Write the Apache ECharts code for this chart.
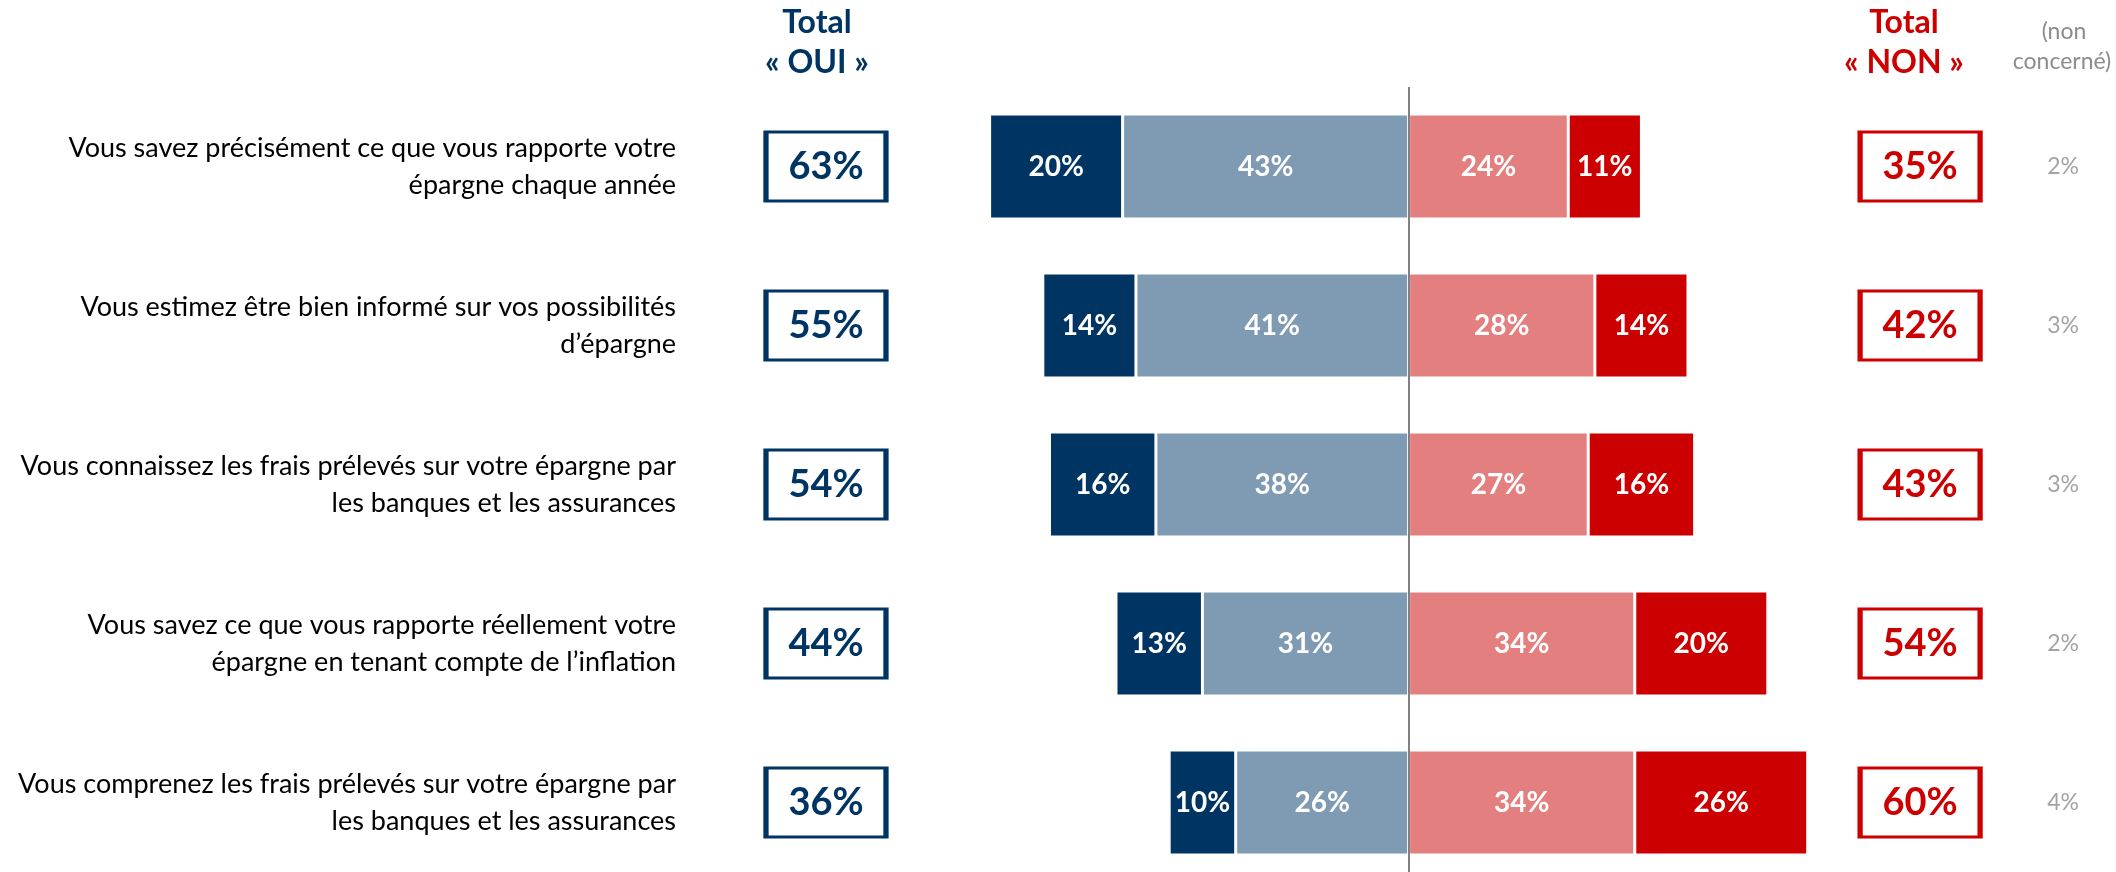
<!DOCTYPE html>
<html>
<head>
<meta charset="utf-8">
<script src="https://cdn.jsdelivr.net/npm/echarts@6/dist/echarts.min.js"></script>
<style>html,body{margin:0;padding:0;background:#fff;overflow:hidden}#c{width:2116px;height:882px}</style>
</head>
<body>
<div id="c"></div>
<script>
const categories = [
  "Vous savez précisément ce que vous rapporte votre\népargne chaque année",
  "Vous estimez être bien informé sur vos possibilités\nd’épargne",
  "Vous connaissez les frais prélevés sur votre épargne par\nles banques et les assurances",
  "Vous savez ce que vous rapporte réellement votre\népargne en tenant compte de l’inflation",
  "Vous comprenez les frais prélevés sur votre épargne par\nles banques et les assurances"
];
const toutAFaitOui = [20, 14, 16, 13, 10];
const plutotOui = [43, 41, 38, 31, 26];
const plutotNon = [24, 28, 27, 34, 34];
const pasDuToutNon = [11, 14, 16, 20, 26];
const totalOui = [63, 55, 54, 44, 36];
const totalNon = [35, 42, 43, 54, 60];
const nonConcerne = [2, 3, 3, 2, 4];

const FONT = 'Lato';
const NAVY = '#003463', LIGHTBLUE = '#7F9AB3', PINK = '#E3807F', RED = '#CC0000', GREY = '#8C8C8C';
const X_OUI = -87.6, X_NON = 76.9, X_NC = 98.4;

const chart = echarts.init(document.getElementById('c'), null, {renderer: 'canvas'});
const barLabel = {
  show: true, position: 'inside', color: '#fff', fontWeight: 'bold', fontSize: 28, fontFamily: FONT,
  formatter: p => Math.abs(p.value) + '%'
};
const barStyle = c => ({color: c, borderColor: '#fff', borderWidth: 1.5});
function boxSeries(vals, x, color) {
  return {
    type: 'scatter', z: 3, silent: true,
    symbol: 'rect', symbolSize: [120, 69],
    itemStyle: {color: '#fff', borderColor: color, borderWidth: 4, opacity: 1},
    label: {show: true, position: 'inside', color: color, fontWeight: 'bold', fontSize: 38, fontFamily: FONT,
      formatter: p => p.value[2] + '%'},
    data: vals.map((v, i) => [x, i, v])
  };
}
function hdr(text, x, y, color, font) {
  return {type: 'text', x: x, y: y, silent: true,
    style: {text: text, fill: color, font: font, align: 'center', verticalAlign: 'middle'}};
}
chart.setOption({
  animation: false,
  textStyle: {fontFamily: FONT},
  grid: {left: 677, right: 9, top: 87, bottom: 0, containLabel: false},
  xAxis: {type: 'value', min: -110, max: 105, show: false},
  yAxis: {
    type: 'category', inverse: true, data: categories,
    axisLine: {show: false}, axisTick: {show: false},
    axisLabel: {fontSize: 27, color: '#000', fontFamily: FONT, align: 'right', lineHeight: 37, margin: 1}
  },
  graphic: [
    hdr('Total', 817, 23, NAVY, 'bold 32px Lato'),
    hdr('« OUI »', 817, 63, NAVY, 'bold 32px Lato'),
    hdr('Total', 1904, 23, RED, 'bold 32px Lato'),
    hdr('« NON »', 1904, 63, RED, 'bold 32px Lato'),
    hdr('(non', 2064, 32, GREY, '23px Lato'),
    hdr('concerné)', 2062, 62, GREY, '23px Lato')
  ],
  series: [
    {name: 'Plutôt oui', type: 'bar', stack: 's', barWidth: 105, data: plutotOui.map(v => -v),
      itemStyle: barStyle(LIGHTBLUE), label: barLabel},
    {name: 'Tout à fait oui', type: 'bar', stack: 's', barWidth: 105, data: toutAFaitOui.map(v => -v),
      itemStyle: barStyle(NAVY), label: barLabel},
    {name: 'Plutôt non', type: 'bar', stack: 's', barWidth: 105, data: plutotNon,
      itemStyle: barStyle(PINK), label: barLabel},
    {name: 'Pas du tout', type: 'bar', stack: 's', barWidth: 105, data: pasDuToutNon,
      itemStyle: barStyle(RED), label: barLabel},
    boxSeries(totalOui, X_OUI, NAVY),
    boxSeries(totalNon, X_NON, RED),
    {
      type: 'scatter', z: 5, silent: true, symbolSize: 2, itemStyle: {color: 'rgba(255,255,255,0)'},
      label: {show: true, position: 'inside', color: GREY, fontSize: 23, fontFamily: FONT, formatter: p => p.value[2] + '%'},
      data: nonConcerne.map((v, i) => [X_NC, i, v]),
      markLine: {silent: true, symbol: 'none', label: {show: false},
        lineStyle: {color: '#808080', width: 2, type: 'solid'}, data: [{xAxis: 0}]}
    }
  ]
});
</script>
</body>
</html>
